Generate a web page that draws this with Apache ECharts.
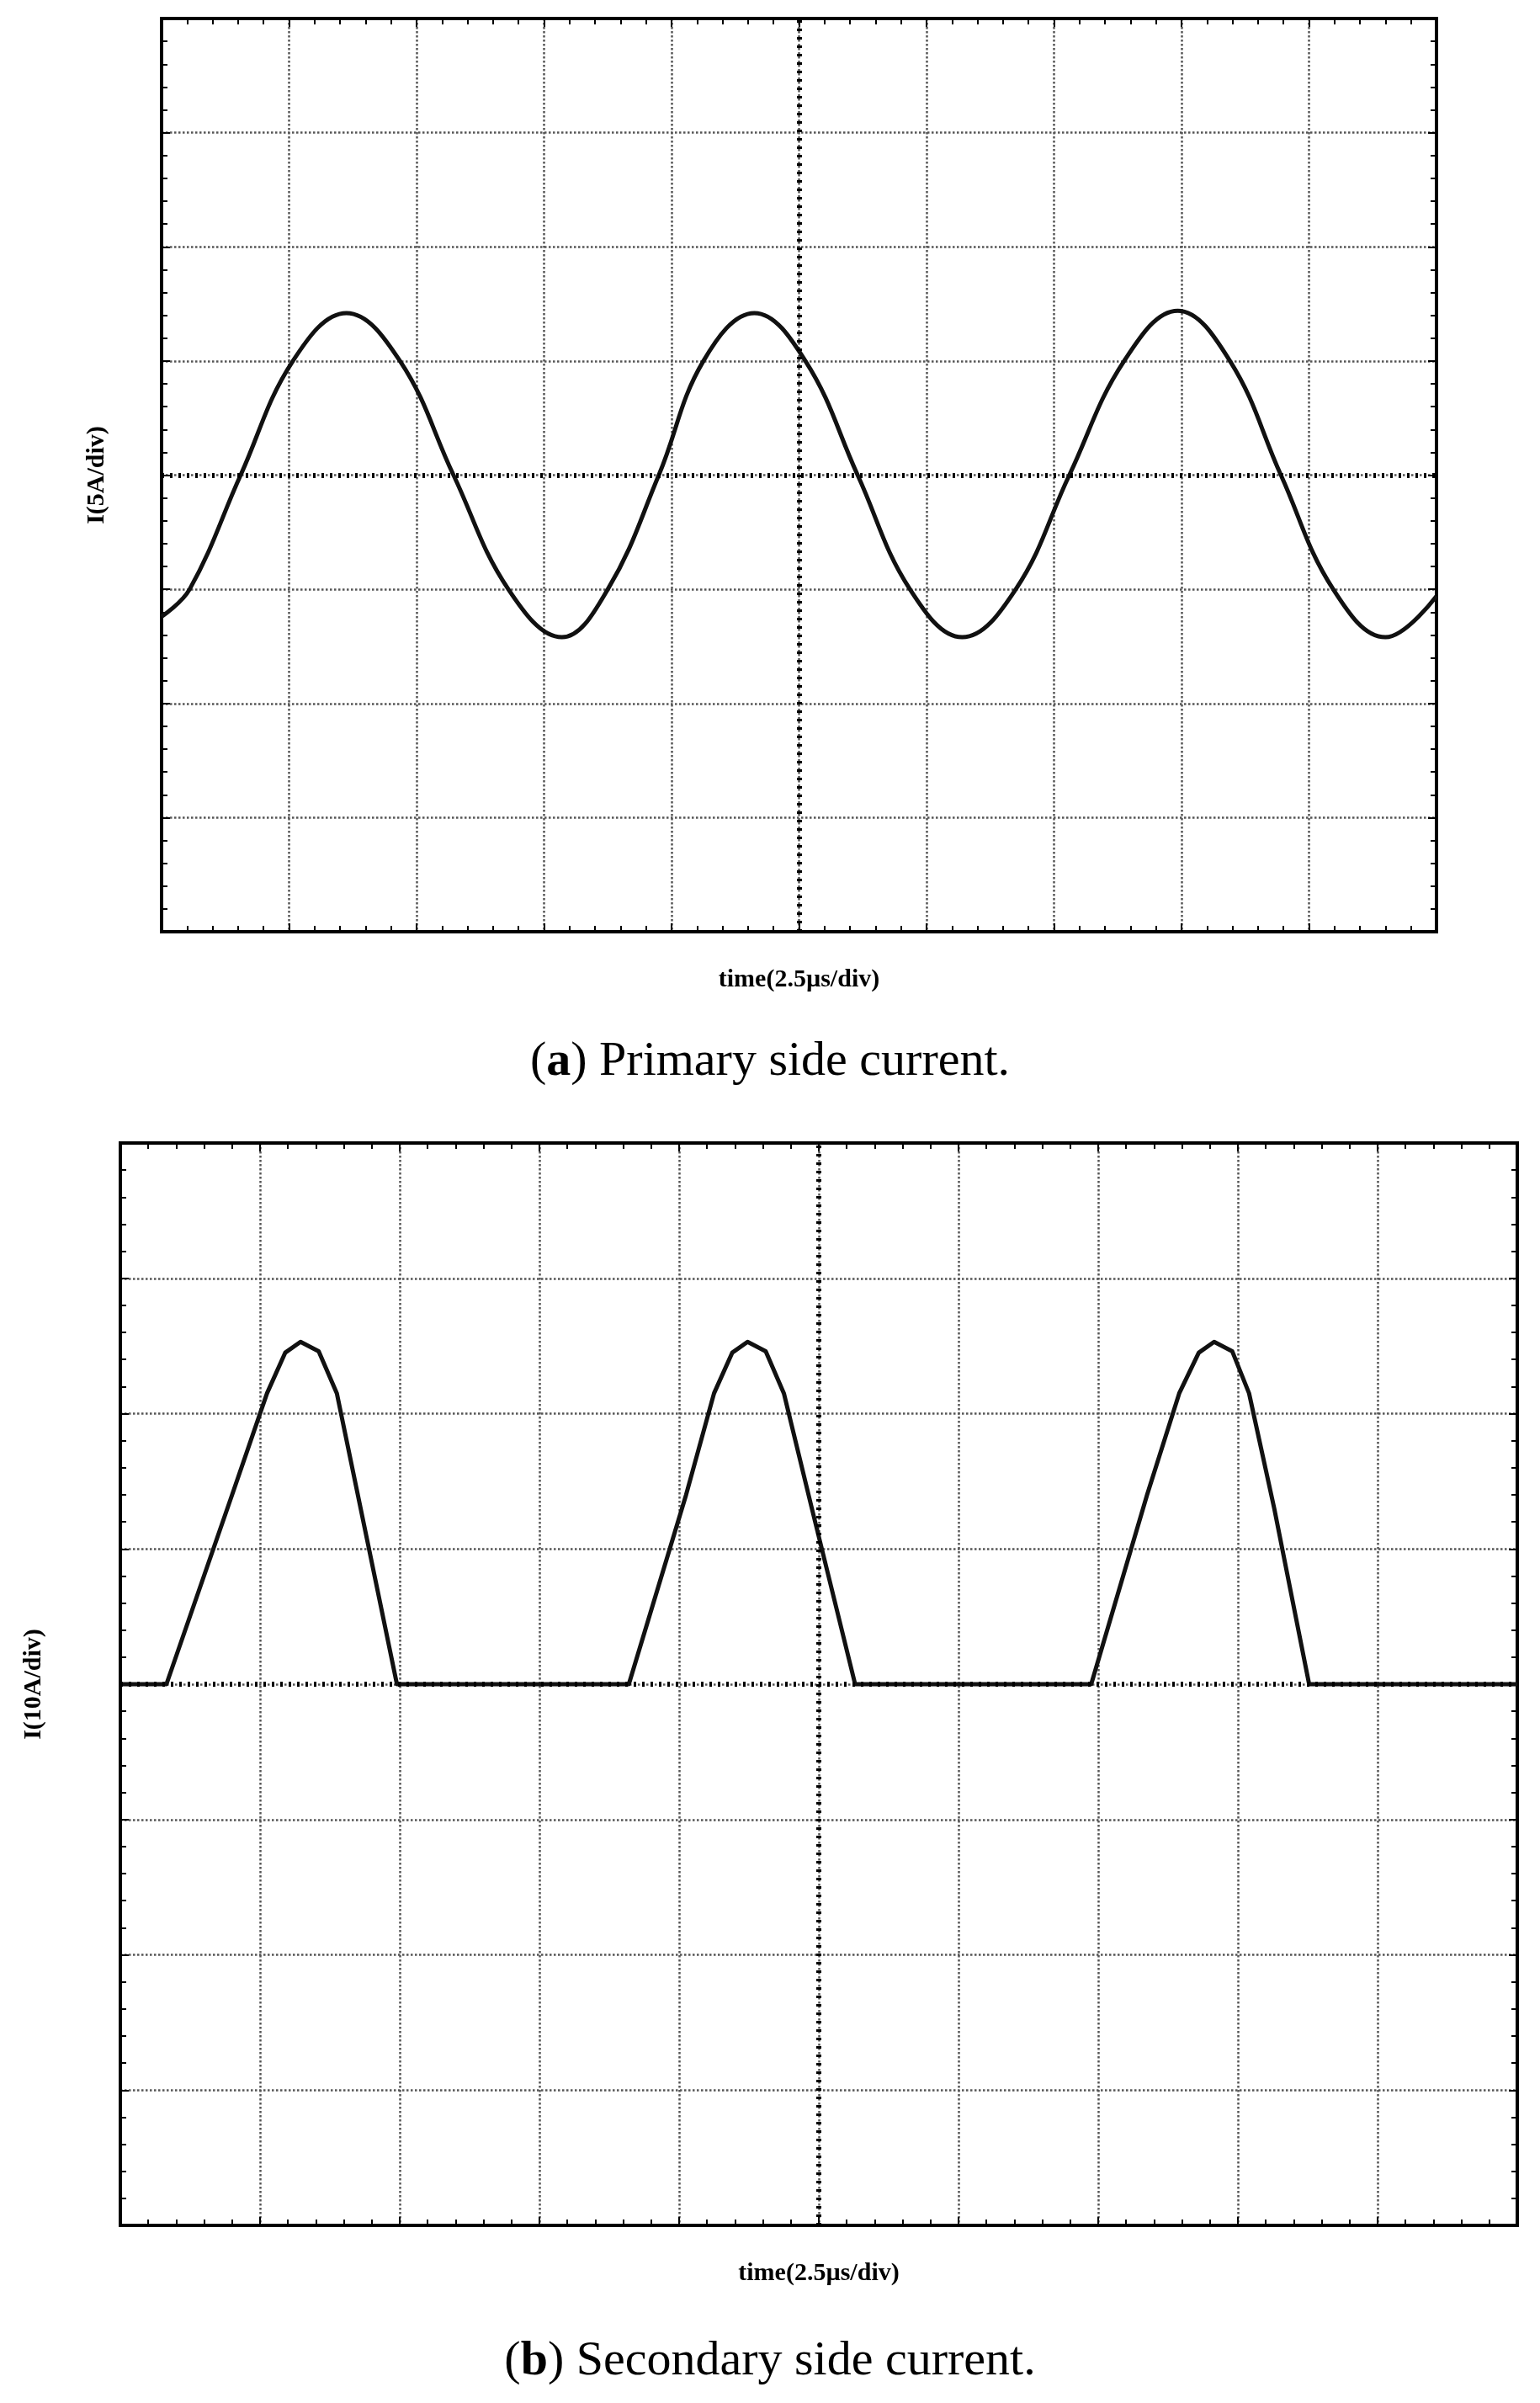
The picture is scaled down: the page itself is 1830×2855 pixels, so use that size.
<!DOCTYPE html>
<html><head><meta charset="utf-8">
<script src="https://cdn.jsdelivr.net/npm/echarts@6/dist/echarts.min.js"></script>
<style>html,body{margin:0;padding:0;background:#fff}#c{width:1830px;height:2855px}</style>
</head><body><div id="c"></div>
<script>
// Primary side current (A) vs time (div)
const primaryT = [0,0.22,0.62,1.03,1.45,1.87,2.29,2.72,3.14,3.5,3.9,4.25,4.65,5.05,5.46,5.87,6.28,6.7,7.12,7.55,7.97,8.38,8.78,9.19,9.6,10];
const primaryI = [-6.2,-5,0,5,7.1,5,0,-5,-7.1,-5,0,5,7.1,5,0,-5,-7.1,-5,0,5,7.2,5,0,-5,-7.1,-5.3];
// Secondary side current (A)
const secondaryT = [0,0.33,0.8,1.05,1.18,1.29,1.42,1.55,1.72,1.98,3.64,4.05,4.25,4.38,4.49,4.62,4.75,4.95,5.26,6.95,7.35,7.58,7.72,7.83,7.96,8.08,8.26,8.51,10];
const secondaryI = [0,0,14,21.5,24.5,25.3,24.6,21.5,13,0,0,14,21.5,24.5,25.3,24.6,21.5,13,0,0,14,21.5,24.5,25.3,24.6,21.5,13,0,0];

const chart = echarts.init(document.getElementById('c'));
const dot = {type:'dotted',color:'#555',width:2.5};
function axesFor(g, ymin, ymax, yint, name, xname, ygap){
  const base = {gridIndex:g, axisLine:{show:true,onZero:false,lineStyle:{color:'#000',width:3}}, axisLabel:{show:false},
    axisTick:{show:true,inside:true,length:10,lineStyle:{color:'#000',width:2}},
    minorTick:{show:true,splitNumber:5,length:7,lineStyle:{color:'#000',width:2}}};
  return {
    x:[Object.assign({},base,{type:'value',min:0,max:10,interval:1,position:'bottom',splitLine:{show:true,lineStyle:dot},
        name:xname,nameLocation:'middle',nameGap:42,nameTextStyle:{fontFamily:'Liberation Serif',fontWeight:'bold',fontSize:30,color:'#000'}}),
       Object.assign({},base,{type:'value',min:0,max:10,interval:1,position:'top',splitLine:{show:false}})],
    y:[Object.assign({},base,{type:'value',min:ymin,max:ymax,interval:yint,position:'left',splitLine:{show:true,lineStyle:dot},
        name:name,nameLocation:'middle',nameGap:ygap,nameTextStyle:{fontFamily:'Liberation Serif',fontWeight:'bold',fontSize:30,color:'#000'}}),
       Object.assign({},base,{type:'value',min:ymin,max:ymax,interval:yint,position:'right',splitLine:{show:false}})]
  };
}
const a = axesFor(0,-20,20,5,'I(5A/div)','time(2.5µs/div)',62);
const b = axesFor(1,-40,40,10,'I(10A/div)','time(2.5µs/div)',88);
const centerLines = (ymid)=>({silent:true,symbol:'none',label:{show:false},
  lineStyle:{type:[3,7],color:'#000',width:6},data:[{xAxis:5},{yAxis:ymid}]});
const rich = {b:{fontFamily:'Liberation Serif',fontWeight:'bold',fontSize:58,color:'#000'},n:{fontFamily:'Liberation Serif',fontWeight:'normal',fontSize:58,color:'#000'}};
chart.setOption({
  animation:false,
  title:[
    {text:'{n|(}{b|a}{n|) Primary side current.}',left:'center',top:1228,textStyle:{fontWeight:'normal',rich}},
    {text:'{n|(}{b|b}{n|) Secondary side current.}',left:'center',top:2772,textStyle:{fontWeight:'normal',rich}}
  ],
  grid:[{left:192,width:1515,top:22,height:1085,show:true,borderColor:'#000',borderWidth:4},
        {left:143,width:1660,top:1358,height:1286,show:true,borderColor:'#000',borderWidth:4}],
  xAxis:[...a.x, ...b.x.map(o=>Object.assign(o,{gridIndex:1}))],
  yAxis:[...a.y, ...b.y.map(o=>Object.assign(o,{gridIndex:1}))],
  series:[
    {type:'line',xAxisIndex:0,yAxisIndex:0,data:primaryT.map((t,i)=>[t,primaryI[i]]),smooth:0.4,symbol:'none',
     lineStyle:{color:'#111',width:5},markLine:centerLines(0)},
    {type:'line',xAxisIndex:2,yAxisIndex:2,data:secondaryT.map((t,i)=>[t,secondaryI[i]]),symbol:'none',
     lineStyle:{color:'#111',width:5,join:'round'},markLine:centerLines(0)}
  ]
});
</script></body></html>
